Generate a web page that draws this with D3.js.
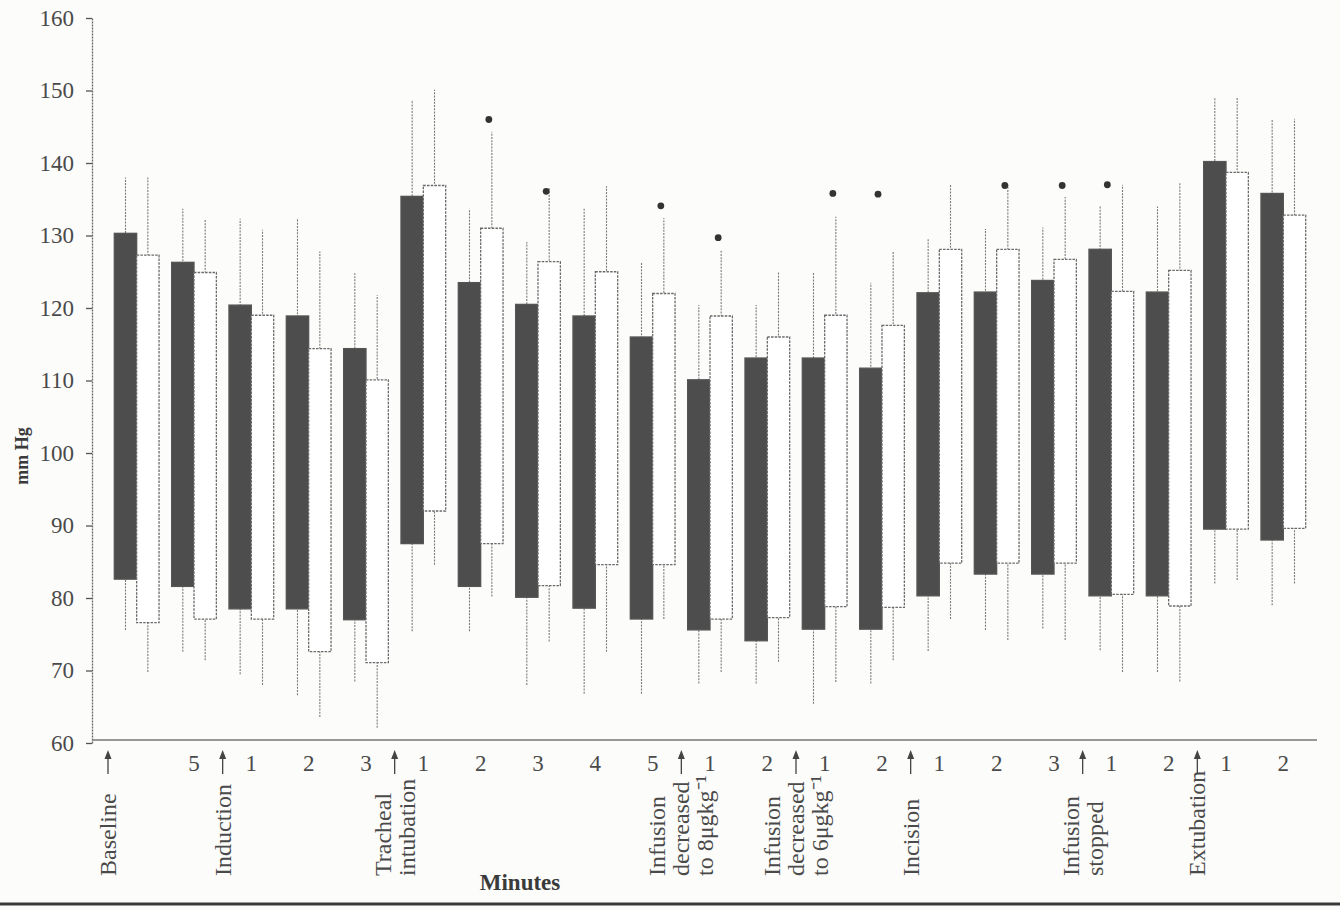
<!DOCTYPE html>
<html>
<head>
<meta charset="utf-8">
<script src="https://cdn.jsdelivr.net/npm/d3@7"></script>
<style>
  body { margin: 0; background: #fcfcfa; }
  svg { display: block; font-family: "Liberation Serif", "Times New Roman", serif; }
</style>
</head>
<body>
<div id="chart"></div>
<script>
// minute labels under each pair of boxes (first pair is baseline itself)
const minuteLabels = ["", "5", "1", "2", "3", "1", "2", "3", "4", "5", "1", "2", "1", "2", "1", "2", "3", "1", "2", "1", "2"];

// dark group: box ends and whisker ends (mm Hg)
const darkBoxLow   = [82.6, 81.6, 78.5, 78.5, 77.0, 87.5, 81.6, 80.1, 78.6, 77.1, 75.6, 74.1, 75.7, 75.7, 80.3, 83.3, 83.3, 80.3, 80.3, 89.5, 88.0];
const darkBoxHigh  = [130.3, 126.3, 120.4, 118.9, 114.4, 135.4, 123.5, 120.5, 118.9, 116.0, 110.1, 113.1, 113.1, 111.7, 122.1, 122.2, 123.8, 128.1, 122.2, 140.2, 135.8];
const darkWhiskLow = [75.6, 72.6, 69.5, 66.6, 68.5, 75.4, 75.4, 68.0, 66.8, 66.8, 68.2, 68.2, 65.4, 68.2, 72.7, 75.6, 75.8, 72.8, 69.8, 82.0, 79.0];
const darkWhiskHigh = [138.0, 133.7, 132.3, 132.4, 124.8, 148.7, 133.7, 129.1, 133.7, 126.2, 120.4, 120.4, 125.0, 123.5, 129.5, 130.9, 131.1, 134.1, 134.0, 149.1, 146.1];

// white group
const whiteBoxLow   = [76.6, 77.1, 77.1, 72.6, 71.1, 92.0, 87.5, 81.7, 84.6, 84.6, 77.1, 77.3, 78.8, 78.7, 84.8, 84.8, 84.8, 80.5, 78.9, 89.5, 89.6];
const whiteBoxHigh  = [127.3, 124.9, 119.0, 114.4, 110.1, 136.9, 131.0, 126.4, 125.0, 122.0, 118.9, 116.0, 119.0, 117.6, 128.1, 128.1, 126.7, 122.3, 125.2, 138.7, 132.8];
const whiteWhiskLow = [69.8, 71.4, 68.0, 63.6, 62.1, 84.6, 80.2, 74.0, 72.6, 77.1, 69.8, 71.2, 68.4, 71.4, 77.1, 74.2, 74.2, 69.8, 68.5, 82.5, 82.0];
const whiteWhiskHigh = [138.0, 132.3, 130.8, 127.8, 121.8, 150.1, 144.3, 136.7, 136.8, 132.4, 128.0, 124.9, 132.6, 127.9, 137.0, 137.0, 135.3, 137.0, 137.2, 149.1, 146.1];

// significance marks
const starGroups = [6, 7, 9, 10, 12, 13, 15, 16, 17];
const starSide   = ["white", "white", "white", "white", "white", "both", "white", "white", "both"];
const starValues = [146.0, 136.1, 134.1, 129.7, 135.8, 135.7, 136.9, 136.9, 137.0];

// events (arrow placed just before the given pair)
const eventLines = [
  ["Baseline"],
  ["Induction"],
  ["Tracheal", "intubation"],
  ["Infusion", "decreased", "to 8\u03bcgkg\u207b\u00b9"],
  ["Infusion", "decreased", "to 6\u03bcgkg\u207b\u00b9"],
  ["Incision"],
  ["Infusion", "stopped"],
  ["Extubation"]
];
const eventBefore = [0, 2, 5, 10, 12, 14, 17, 19];

const yTicks = d3.range(60, 161, 10);

const width = 1340, height = 910;
const ink = "#4a4a4a";

const svg = d3.select("#chart").append("svg")
    .attr("width", width)
    .attr("height", height);

const y = d3.scaleLinear().domain([60, 160]).range([743, 18]);
const x = d3.scaleBand()
    .domain(d3.range(minuteLabels.length))
    .range([108, 1312])
    .paddingInner(0.22)
    .paddingOuter(0.11);
const xSub = d3.scaleBand().domain(["dark", "white"]).range([0, x.bandwidth()]);

const groups = minuteLabels.map((m, i) => ({
  i,
  series: [
    {key: "dark", lo: darkBoxLow[i], hi: darkBoxHigh[i], wlo: darkWhiskLow[i], whi: darkWhiskHigh[i]},
    {key: "white", lo: whiteBoxLow[i], hi: whiteBoxHigh[i], wlo: whiteWhiskLow[i], whi: whiteWhiskHigh[i]}
  ]
}));

// y axis
const yAxis = svg.append("g")
    .attr("transform", "translate(92,0)")
    .call(d3.axisLeft(y).tickValues(yTicks).tickSize(6).tickSizeOuter(0).tickPadding(12));
yAxis.select(".domain").attr("stroke", "#666").attr("stroke-width", 1.3).attr("stroke-dasharray", "2,1");
yAxis.selectAll(".tick line").attr("stroke", "#555").attr("stroke-width", 1.3);
yAxis.selectAll(".tick text")
    .attr("font-size", 23)
    .attr("fill", ink)
    .attr("font-family", "Liberation Serif, serif");

// x axis (minute numbers)
const xAxis = svg.append("g")
    .attr("transform", `translate(0,${y(60)})`)
    .call(d3.axisBottom(x).tickFormat(i => minuteLabels[i]).tickSize(0).tickPadding(12));
xAxis.select(".domain").remove();
xAxis.selectAll(".tick text")
    .attr("font-size", 23)
    .attr("fill", ink)
    .attr("font-family", "Liberation Serif, serif");
svg.append("line")
    .attr("x1", 92).attr("x2", x.range()[1] + 5)
    .attr("y1", y(60) - 3).attr("y2", y(60) - 3)
    .attr("stroke", "#777").attr("stroke-width", 1.4);

// boxes and whiskers
const pair = svg.append("g").selectAll("g.pair")
    .data(groups)
  .join("g")
    .attr("class", "pair")
    .attr("transform", d => `translate(${x(d.i)},0)`);

const item = pair.selectAll("g.item")
    .data(d => d.series)
  .join("g")
    .attr("class", "item");

item.append("line")
    .attr("x1", d => xSub(d.key) + xSub.bandwidth() / 2)
    .attr("x2", d => xSub(d.key) + xSub.bandwidth() / 2)
    .attr("y1", d => y(d.wlo))
    .attr("y2", d => y(d.whi))
    .attr("stroke", "#7a7a7a")
    .attr("stroke-width", 1.1)
    .attr("stroke-dasharray", "2,1.2");

item.append("rect")
    .attr("x", d => xSub(d.key))
    .attr("width", xSub.bandwidth())
    .attr("y", d => y(d.hi))
    .attr("height", d => y(d.lo) - y(d.hi))
    .attr("fill", d => d.key === "dark" ? "#4d4d4d" : "#fff")
    .attr("stroke", d => d.key === "dark" ? "#555" : "#6a6a6a")
    .attr("stroke-width", 1.3)
    .attr("stroke-dasharray", d => d.key === "dark" ? null : "2.5,1.2");

// asterisks
svg.append("g").selectAll("circle")
    .data(starGroups.map((g, k) => ({g, side: starSide[k], v: starValues[k]})))
  .join("circle")
    .attr("cx", d => d.side === "both"
        ? x(d.g) + x.bandwidth() / 2 - 4
        : x(d.g) + xSub(d.side) + xSub.bandwidth() / 2 - 3)
    .attr("cy", d => y(d.v))
    .attr("r", 3.4)
    .attr("fill", "#333");

// event arrows and labels
const ev = svg.append("g").selectAll("g.event")
    .data(eventLines.map((lines, k) => ({lines, at: eventBefore[k]})))
  .join("g")
    .attr("class", "event")
    .attr("transform", d => `translate(${x(d.at) - x.step() * x.paddingInner() / 2},0)`);

ev.append("line")
    .attr("x1", 0).attr("x2", 0)
    .attr("y1", 774).attr("y2", 754)
    .attr("stroke", "#444").attr("stroke-width", 1.3);
ev.append("path")
    .attr("d", "M-3.5,759 L0,750 L3.5,759 Z")
    .attr("fill", "#444");

ev.append("g")
    .attr("transform", "translate(0,876) rotate(-90)")
  .selectAll("text")
    .data(d => d.lines.map((t, k) => ({t, k, n: d.lines.length})))
  .join("text")
    .attr("x", 0)
    .attr("y", d => (d.k - (d.n - 1) / 2) * 24)
    .attr("dominant-baseline", "central")
    .attr("font-size", 24)
    .attr("fill", ink)
    .text(d => d.t);

// axis titles
svg.append("text")
    .attr("x", 520).attr("y", 890)
    .attr("text-anchor", "middle")
    .attr("font-size", 23)
    .attr("font-weight", "bold")
    .attr("fill", "#3a3a3a")
    .text("Minutes");

svg.append("text")
    .attr("transform", "translate(28,456) rotate(-90)")
    .attr("text-anchor", "middle")
    .attr("font-size", 18)
    .attr("font-weight", "bold")
    .attr("fill", "#3a3a3a")
    .text("mm Hg");

// page rule under the figure
svg.append("line")
    .attr("x1", 0).attr("x2", width)
    .attr("y1", 904).attr("y2", 904)
    .attr("stroke", "#3a3a3a").attr("stroke-width", 3);
</script>
</body>
</html>
